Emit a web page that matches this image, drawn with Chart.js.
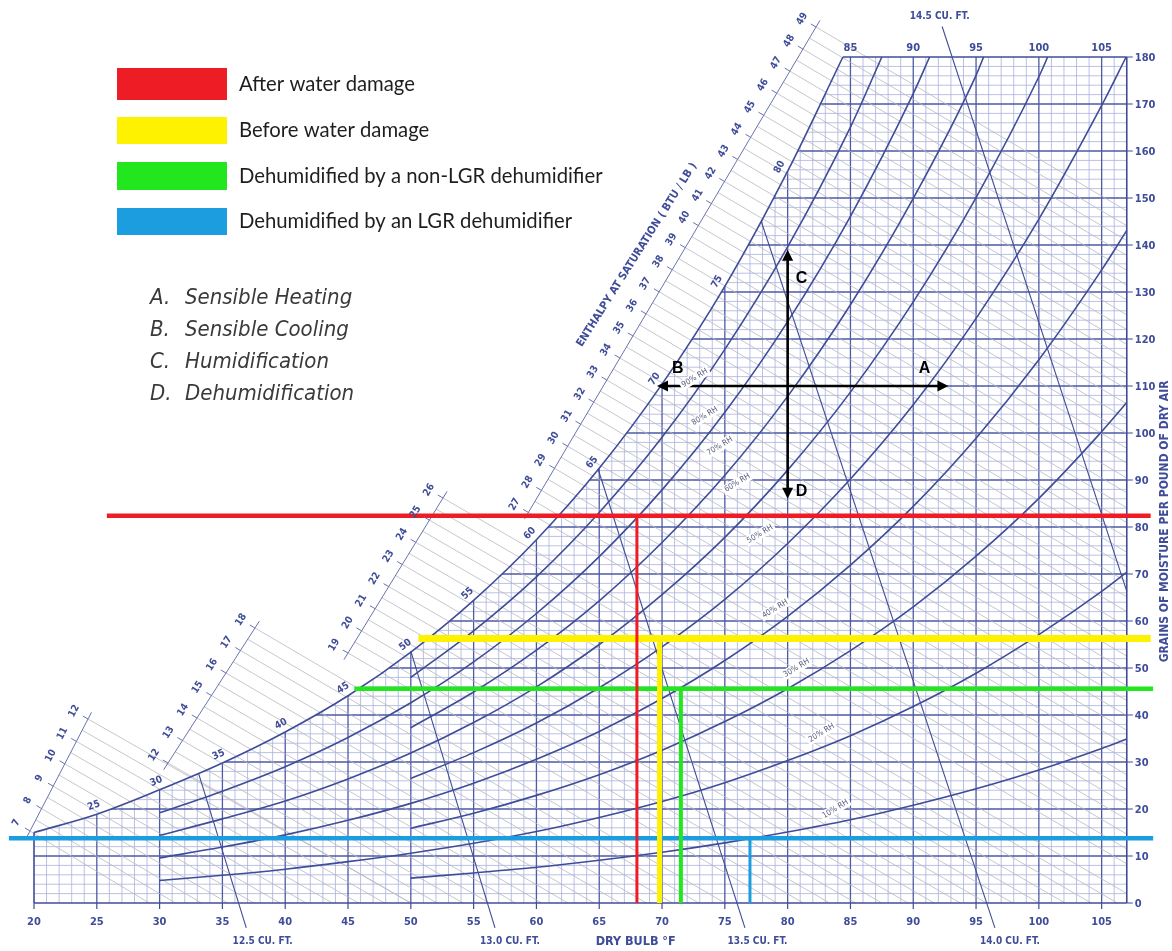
<!DOCTYPE html>
<html><head><meta charset="utf-8">
<script src="https://cdn.jsdelivr.net/npm/chart.js@4.4.1/dist/chart.umd.min.js"></script>
<style>html,body{margin:0;padding:0;background:#fff;overflow:hidden}canvas{display:block}</style>
</head><body>
<canvas id="c" width="1172" height="951"></canvas>
<script>
// ---------------- data ----------------
const dryBulbTicks = [20,25,30,35,40,45,50,55,60,65,70,75,80,85,90,95,100,105];
const topTicks = [85,90,95,100,105];
const grainTicks = [0,10,20,30,40,50,60,70,80,90,100,110,120,130,140,150,160,170,180];
const dewPointLabels = [25,30,35,40,45,50,55,60,65,70,75,80];

const satT = [20,25,30,35,40,45,50,55,60,65,70,75,80,84.4];
const satW = [15.0,18.9,24.1,29.8,36.4,44.1,53.4,64.4,77.3,92.5,110.4,131.2,155.7,180];

const rh10T = [50,55,60,65,70,75,80,85,90,95,100,105,107];
const rh10W = [5.3,6.4,7.6,9.1,10.8,12.8,15.1,17.7,20.8,24.3,28.3,32.9,34.9];
const rh20T = [30,35,40,45,50,55,60,65,70,75,80,85,90,95,100,105,107];
const rh20W = [4.8,5.9,7.2,8.8,10.6,12.7,15.2,18.2,21.6,25.6,30.3,35.6,41.8,48.9,57.1,66.3,70.4];
const rh30T = [50,55,60,65,70,75,80,85,90,95,100,105,107];
const rh30W = [15.9,19.1,22.9,27.3,32.5,38.6,45.6,53.7,63.0,73.8,86.1,100.3,106.5];
const rh40T = [30,35,40,45,50,55,60,65,70,75,80,85,90,95,100,105,107];
const rh40W = [9.6,11.9,14.5,17.6,21.2,25.5,30.6,36.5,43.5,51.6,61.0,71.9,84.4,98.9,115.6,134.7,143.1];
const rh50T = [50,55,60,65,70,75,80,85,90,95,100,105,106.95];
const rh50W = [26.5,32.0,38.3,45.8,54.5,64.6,76.5,90.2,106.0,124.4,145.5,169.7,180];
const rh60T = [30,35,40,45,50,55,60,65,70,75,80,85,90,95,100,100.7];
const rh60W = [14.4,17.9,21.7,26.4,31.9,38.4,46.0,55.0,65.6,77.8,92.1,108.7,127.9,150.1,175.8,180];
const rh70T = [50,55,60,65,70,75,80,85,90,95,95.6];
const rh70W = [37.3,44.9,53.8,64.3,76.7,91.0,107.8,127.3,149.9,176.1,180];
const rh80T = [30,35,40,45,50,55,60,65,70,75,80,85,90,91.3];
const rh80W = [19.2,23.8,29.0,35.2,42.6,51.3,61.6,73.7,87.9,104.4,123.7,146.1,172.2,180];
const rh90T = [50,55,60,65,70,75,80,85,87.5];
const rh90W = [48.0,57.9,69.4,83.1,99.1,117.8,139.6,165.1,180];

const rhNames = ['10% RH','20% RH','30% RH','40% RH','50% RH','60% RH','70% RH','80% RH','90% RH'];
const rhLabelT = [83.8,82.7,80.7,79.0,77.8,76.0,74.6,73.4,72.6];
const rhLabelW = [20.0,36.2,50.0,62.6,78.5,89.4,97.2,103.6,111.7];

// enthalpy at saturation scale: [first value, last value, T & W of first tick, T & W of last tick]
const enthalpySegments = [
  [7,12, 19.68,15.32, 24.30,39.15],
  [12,18, 30.67,29.79, 37.59,58.51],
  [19,26, 45.00,53.19, 52.56,86.17],
  [27,49, 59.36,83.10, 82.26,186.38]
];

// specific volume lines
const volNames = ['12.5 CU. FT.','13.0 CU. FT.','13.5 CU. FT.','14.0 CU. FT.','14.5 CU. FT.'];
const volStartT = [33.1,50.0,64.9,77.9,92.3];
const volStartW = [27.6,53.6,92.4,145.0,186.5];
const volEndT = [36.9,56.7,76.6,96.5,107];
const volEndW = [-5.3,-5.3,-5.3,-5.3,66.3];
const volLabelT = [38.2,57.9,77.6,97.7,92.1];
const volLabelW = [-8.1,-8.1,-8.1,-8.1,188.7];

// process states
const processNames = ['After water damage','Before water damage','Dehumidified by a non-LGR dehumidifier','Dehumidified by an LGR dehumidifier'];
const processGrains = [82.4,56.3,45.6,13.8];
const processDryBulb = [68.0,69.8,71.5,77.0];
const processStartT = [25.8,50.6,45.5,18.0];
const processEndT = [108.9,108.9,109.1,109.1];
const processColors = ['#ee1c24','#fff200','#22e61e','#1b9ddf'];

const processList = ['A.  Sensible Heating','B.  Sensible Cooling','C.  Humidification','D.  Dehumidification'];
const arrowCenter = [80,110];
const arrowLeftT = 69.6, arrowRightT = 92.8, arrowTopW = 139, arrowBottomW = 86;

// ---------------- helpers ----------------
const BLUE = '#3f4c98';
const NARROW = "'Liberation Sans Narrow','DejaVu Sans Condensed',Arial,sans-serif";
const pts = (T,W) => T.map((t,i)=>({x:t,y:W[i]}));
function hLineEnd(h){ // where a constant-enthalpy line meets the chart frame
  const t0 = h/0.24;
  if (t0 <= 107) return {x:t0,y:0};
  return {x:107,y:7000*(h-0.24*107)/(1061+0.444*107)};
}
function segPoint(s,h){const f=(h-s[0])/(s[1]-s[0]);return {x:s[2]+f*(s[4]-s[2]),y:s[3]+f*(s[5]-s[3])};}

const enthalpyData = [];
enthalpySegments.forEach(s=>{
  for(let h=s[0]; h<=s[1]+1e-6; h+=0.5){
    enthalpyData.push(segPoint(s,h), hLineEnd(h), {x:null,y:null});
  }
});
const scaleLineData = [];
enthalpySegments.forEach(s=>{
  scaleLineData.push(segPoint(s,s[0]-0.3), segPoint(s,s[1]+0.3), {x:null,y:null});
});

const line = (data,color,width,order,extra)=>Object.assign({data,borderColor:color,borderWidth:width,showLine:true,pointRadius:0,fill:false,order,spanGaps:false},extra||{});
const curve = (T,W)=>line(pts(T,W),BLUE,1.6,50,{cubicInterpolationMode:'monotone'});

const datasets = [
  line(pts(satT,satW),'rgba(0,0,0,0)',0,100,{fill:'end',backgroundColor:'#ffffff',cubicInterpolationMode:'monotone'}),
  line(enthalpyData,'#b7b7c2',0.8,90),
  line(scaleLineData,'#6a74b0',1,89),
  curve(satT,satW),
  curve(rh10T,rh10W),curve(rh20T,rh20W),curve(rh30T,rh30W),curve(rh40T,rh40W),curve(rh50T,rh50W),
  curve(rh60T,rh60W),curve(rh70T,rh70W),curve(rh80T,rh80W),curve(rh90T,rh90W),
  line([{x:20,y:0},{x:107,y:0}],BLUE,1.6,40),
  line([{x:107,y:0},{x:107,y:180}],BLUE,1.6,40),
  line([{x:84.4,y:180},{x:107,y:180}],BLUE,1.6,40),
  line([{x:20,y:0},{x:20,y:15}],BLUE,1.6,40)
];
volStartT.forEach((t,i)=>datasets.push(line([{x:t,y:volStartW[i]},{x:volEndT[i],y:volEndW[i]}],BLUE,1.1,45)));
const hW=[4.5,7,4.5,4.5], vW=[3,5,4,3];
processGrains.forEach((g,i)=>{
  datasets.push(line([{x:processStartT[i],y:g},{x:processEndT[i],y:g}],processColors[i],hW[i],10+i));
  datasets.push(line([{x:processDryBulb[i],y:g},{x:processDryBulb[i],y:0}],processColors[i],vW[i],10+i));
});
datasets.push(line([{x:arrowLeftT+0.6,y:arrowCenter[1]},{x:arrowRightT-0.6,y:arrowCenter[1]}],'#000',2.6,2));
datasets.push(line([{x:arrowCenter[0],y:arrowBottomW+1.5},{x:arrowCenter[0],y:arrowTopW-1.5}],'#000',2.6,2));

function txt(ctx,s,x,y,ang,font,color,align,bg){
  ctx.save();ctx.translate(x,y);ctx.rotate(ang||0);ctx.font=font;ctx.textAlign=align||'center';ctx.textBaseline='middle';
  if(bg){const w=ctx.measureText(s).width;ctx.fillStyle='#fff';ctx.fillRect(-w/2-2,-5,w+4,10);}
  ctx.fillStyle=color;ctx.fillText(s,0,0);ctx.restore();
}
function arrowHead(ctx,x,y,dx,dy){
  ctx.save();ctx.fillStyle='#000';ctx.beginPath();
  const L=11,Wd=5.5;
  ctx.moveTo(x,y);ctx.lineTo(x-dx*L-dy*Wd,y-dy*L+dx*Wd);ctx.lineTo(x-dx*L+dy*Wd,y-dy*L-dx*Wd);ctx.closePath();ctx.fill();ctx.restore();
}

const psyPlugin = {
  id:'psy',
  beforeDatasetsDraw(chart){
    const ctx=chart.ctx, X=v=>chart.scales.x.getPixelForValue(v), Y=v=>chart.scales.y.getPixelForValue(v);
    ctx.save();
    ctx.strokeStyle='#aab1dc';ctx.lineWidth=0.8;ctx.beginPath();
    for(let t=21;t<107;t++){ if(t%5===0)continue; ctx.moveTo(X(t),Y(0));ctx.lineTo(X(t),Y(180)); }
    for(let w=2;w<180;w+=2){ if(w%10===0)continue; ctx.moveTo(X(20),Y(w));ctx.lineTo(X(107),Y(w)); }
    ctx.stroke();
    ctx.strokeStyle='#4f5aa6';ctx.lineWidth=1.3;ctx.beginPath();
    for(let t=25;t<107;t+=5){ ctx.moveTo(X(t),Y(0));ctx.lineTo(X(t),Y(180)); }
    for(let w=10;w<180;w+=10){ ctx.moveTo(X(20),Y(w));ctx.lineTo(X(107),Y(w)); }
    ctx.stroke();
    ctx.restore();
  },
  afterDatasetsDraw(chart){
    const ctx=chart.ctx, X=v=>chart.scales.x.getPixelForValue(v), Y=v=>chart.scales.y.getPixelForValue(v);
    // axes ticks & labels
    ctx.save();ctx.strokeStyle=BLUE;ctx.lineWidth=1.2;ctx.beginPath();
    dryBulbTicks.forEach(t=>{ctx.moveTo(X(t),Y(0));ctx.lineTo(X(t),Y(0)+6);});
    grainTicks.forEach(g=>{ctx.moveTo(X(107),Y(g));ctx.lineTo(X(107)+6,Y(g));});
    ctx.stroke();ctx.restore();
    dryBulbTicks.forEach(t=>txt(ctx,String(t),X(t),Y(0)+19,0,"bold 11px "+NARROW,BLUE));
    topTicks.forEach(t=>txt(ctx,String(t),X(t),Y(180)-9,0,"bold 11px "+NARROW,BLUE));
    grainTicks.forEach(g=>txt(ctx,String(g),X(107)+8,Y(g)+1,0,"bold 11px "+NARROW,BLUE,'left'));
    txt(ctx,'GRAINS OF MOISTURE PER POUND OF DRY AIR',X(107)+38,Y(81.2),-Math.PI/2,"bold 12px "+NARROW,BLUE);
    txt(ctx,'DRY BULB °F',X(67.9),Y(-8.3),0,"bold 12.5px "+NARROW,BLUE);
    volNames.forEach((n,i)=>txt(ctx,n,X(volLabelT[i]),Y(volLabelW[i]),0,"bold 10px "+NARROW,BLUE));
    // dew point labels on saturation curve
    dewPointLabels.forEach(t=>{
      const i=satT.indexOf(t);
      const x0=X(satT[i-1]),y0=Y(satW[i-1]),x1=X(satT[i+1]),y1=Y(satW[i+1]);
      const a=Math.atan2(y1-y0,x1-x0);
      const x=X(t)+Math.sin(a)*9, y=Y(satW[i])-Math.cos(a)*9;
      txt(ctx,String(t),x,y,a,"bold 10px "+NARROW,BLUE);
    });
    // enthalpy scale ticks and labels
    ctx.save();ctx.strokeStyle='#6a74b0';ctx.lineWidth=1;
    enthalpySegments.forEach(s=>{
      const p0=segPoint(s,s[0]),p1=segPoint(s,s[1]);
      const ang=Math.atan2(Y(p1.y)-Y(p0.y),X(p1.x)-X(p0.x));
      for(let h=s[0];h<=s[1];h++){
        const p=segPoint(s,h),e=hLineEnd(h);
        const sx=X(p.x),sy=Y(p.y),ex=X(e.x),ey=Y(e.y);
        const L=Math.hypot(ex-sx,ey-sy),ux=(sx-ex)/L,uy=(sy-ey)/L;
        ctx.beginPath();ctx.moveTo(sx,sy);ctx.lineTo(sx+ux*6,sy+uy*6);ctx.stroke();
        txt(ctx,String(h),sx+ux*16,sy+uy*16,ang,"bold 10px "+NARROW,BLUE);
      }
    });
    ctx.restore();
    txt(ctx,'ENTHALPY AT SATURATION ( BTU / LB )',X(68.0),Y(137.9),-57.7*Math.PI/180,"bold 11px "+NARROW,BLUE);
    // RH labels
    rhNames.forEach((n,i)=>txt(ctx,n,X(rhLabelT[i]),Y(rhLabelW[i]),-0.55,"8px "+NARROW,'#5a5f80','center',true));
    // arrows
    arrowHead(ctx,X(arrowLeftT),Y(arrowCenter[1]),-1,0);
    arrowHead(ctx,X(arrowRightT),Y(arrowCenter[1]),1,0);
    arrowHead(ctx,X(arrowCenter[0]),Y(arrowTopW),0,-1);
    arrowHead(ctx,X(arrowCenter[0]),Y(arrowBottomW),0,1);
    const LF="bold 16px Arial, 'Liberation Sans', sans-serif";
    txt(ctx,'A',X(90.9),Y(113.8),0,LF,'#000');
    txt(ctx,'B',X(71.25),Y(113.8),0,LF,'#000');
    txt(ctx,'C',X(81.1),Y(132.9),0,LF,'#000');
    txt(ctx,'D',X(81.1),Y(87.6),0,LF,'#000');
    // legend
    const rows=[[68,100],[117,144],[162,190],[208,235]];
    processNames.forEach((n,i)=>{
      ctx.fillStyle=processColors[i];ctx.fillRect(117,rows[i][0],110,rows[i][1]-rows[i][0]);
      txt(ctx,n,239,(rows[i][0]+rows[i][1])/2,0,"20.3px Lato, 'Open Sans', sans-serif",'#1e1e1e','left');
    });
    // process list
    processList.forEach((s,i)=>{
      const parts=s.split('  ');
      txt(ctx,parts[0],150,298+i*32,0,"italic 22px "+NARROW,'#3a3a3a','left');
      txt(ctx,parts[1],185,298+i*32,0,"italic 22px "+NARROW,'#3a3a3a','left');
    });
  }
};

new Chart(document.getElementById('c'),{
  type:'scatter',
  data:{datasets},
  options:{
    responsive:false,animation:false,
    layout:{padding:0},
    plugins:{legend:{display:false},tooltip:{enabled:false}},
    scales:{
      x:{type:'linear',min:17.293,max:110.6,display:false},
      y:{type:'linear',min:-10.21,max:192.13,display:false}
    },
    elements:{line:{capBezierPoints:true}}
  },
  plugins:[psyPlugin]
});
</script>
</body></html>
